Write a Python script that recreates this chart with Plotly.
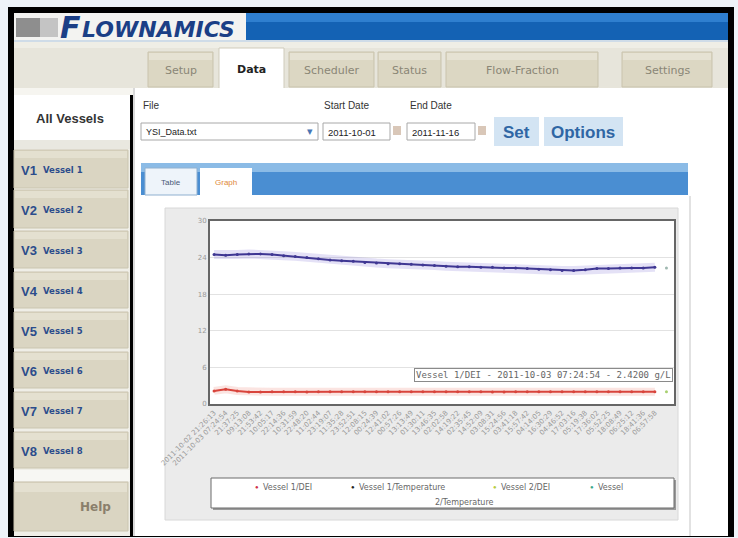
import plotly.graph_objects as go

# ---------------- data ----------------
categories = [
    "2011-10-02 21:26:13", "2011-10-03 07:24:54", "21:37:25", "09:13:08", "21:53:42", "10:05:17",
    "22:14:36", "10:31:59", "22:48:20", "11:02:44", "23:19:07", "11:35:28", "23:52:51", "12:08:15",
    "00:24:39", "12:41:02", "00:57:26", "13:13:49", "01:30:11", "13:46:35", "02:02:58", "14:19:22",
    "02:35:45", "14:52:09", "03:08:31", "15:24:56", "03:41:18", "15:57:42", "04:14:05", "16:30:29",
    "04:46:52", "17:03:16", "05:19:38", "17:36:02", "05:52:25", "18:08:49", "06:25:12", "18:41:36",
    "06:57:58"]

vessel1_temperature = [
    24.5, 24.4, 24.5, 24.6, 24.6, 24.5, 24.3, 24.2, 24.0, 23.8, 23.6, 23.5, 23.4, 23.2,
    23.1, 23.0, 23.0, 22.9, 22.8, 22.7, 22.6, 22.5, 22.5, 22.4, 22.4, 22.3, 22.3, 22.2,
    22.1, 22.0, 21.9, 21.9, 22.0, 22.2, 22.2, 22.3, 22.3, 22.3, 22.4]

vessel1_dei = [
    2.15, 2.42, 2.12, 1.98, 1.97, 1.99, 2.00, 2.00, 1.98, 2.00, 2.01, 1.99, 2.00, 2.02,
    2.00, 1.99, 2.01, 2.02, 2.00, 2.01, 1.99, 2.00, 2.01, 2.00, 1.98, 1.97, 1.99, 2.00,
    2.01, 2.00, 1.99, 2.00, 2.02, 2.01, 2.00, 1.99, 2.00, 2.00, 2.00]

vessel2_temperature = [22.3]
vessel2_dei = [2.0]

y_ticks = [0, 6, 12, 18, 24, 30]

legend_names = ["Vessel 1/DEI", "Vessel 1/Temperature", "Vessel 2/DEI", "Vessel"]
legend_colors = ["#d0304a", "#222222", "#b8cc40", "#3aa88a"]

side_items = [("V1", "Vessel 1"), ("V2", "Vessel 2"), ("V3", "Vessel 3"), ("V4", "Vessel 4"),
              ("V5", "Vessel 5"), ("V6", "Vessel 6"), ("V7", "Vessel 7"), ("V8", "Vessel 8")]
top_tabs = ["Setup", "Data", "Scheduler", "Status", "Flow-Fraction", "Settings"]

# ---------------- geometry helpers (pixel -> paper) ----------------
W, H = 738, 538
PL, PR, PT, PB = 210, 674, 221, 404


def X(px):
    return (px - PL) / (PR - PL)


def Y(py):
    return (PB - py) / (PB - PT)


shapes = []
annotations = []


def rect(x0, y0, x1, y1, fill, line=None, lw=0, layer="below"):
    shapes.append(dict(type="rect", xref="paper", yref="paper",
                       x0=X(x0), x1=X(x1), y0=Y(y1), y1=Y(y0),
                       fillcolor=fill, layer=layer,
                       line=dict(color=line or fill, width=lw)))


def text(px, py, s, size=10, color="#333", family="Liberation Sans", xanchor="left",
         yanchor="middle", **kw):
    annotations.append(dict(x=X(px), y=Y(py), xref="paper", yref="paper", text=s,
                            showarrow=False, xanchor=xanchor, yanchor=yanchor,
                            font=dict(size=size, color=color, family=family), **kw))


# outer frame
rect(8, 7, 734, 537, "#000000")
# logo area
rect(14, 13, 246, 40, "#f3f3f1")
rect(16, 18, 40, 37, "#8e8e8e")
rect(40, 18, 58, 37, "#c4c4c4")
text(58, 27, "<b><i>F</i></b>", size=30, color="#1b3f86", family="DejaVu Sans")
text(80, 29, "<b><i>LOWNAMICS</i></b>", size=22, color="#1b3f86", family="DejaVu Sans")
# blue header
rect(246, 13, 728, 40, "#1462b4")
rect(246, 13, 728, 22, "#2f7fcf")
rect(14, 40, 728, 42, "#cfdce8")
# tab bar
rect(14, 42, 728, 88, "#e7e5db")
rect(14, 42, 728, 48, "#efeee6")
tab_x = [(148, 213), (219, 284), (289, 374), (378, 441), (446, 598), (622, 712)]
for (x0, x1), name in zip(tab_x, top_tabs):
    if name == "Data":
        rect(x0, 48, x1, 92, "#ffffff", line="#cfcbbb", lw=1)
        text((x0 + x1) / 2, 69, "<b>" + name + "</b>", size=11, color="#222",
             family="DejaVu Sans", xanchor="center")
    else:
        rect(x0, 52, x1, 87, "#dcd7c3", line="#c9c3ad", lw=1)
        rect(x0 + 1, 53, x1 - 1, 60, "#e6e2d3")
        text((x0 + x1) / 2, 70, name, size=11, color="#8a8676",
             family="DejaVu Sans", xanchor="center")
# content area
rect(135, 88, 728, 536, "#ffffff")
rect(14, 88, 135, 95, "#f6f5f0")
# sidebar
rect(14, 95, 130, 536, "#efeee7")
rect(14, 95, 130, 141, "#ffffff")
rect(14, 140, 130, 149, "#e9e8e0")
text(70, 118, "<b>All Vessels</b>", size=13, color="#333", xanchor="center")
btn_y = [(150, 188), (190, 228), (231, 268), (272, 308), (312, 348), (352, 388), (392, 428), (432, 468)]
for (y0, y1), (code, label) in zip(btn_y, side_items):
    rect(14, y0, 128, y1, "#dad5c2", line="#cbc5b0", lw=1)
    rect(15, y0 + 1, 127, y0 + 8, "#e4e0d0")
    text(19, (y0 + y1) / 2 + 1, "<b>" + code + "</b>", size=13, color="#2b4c8c")
    text(41, (y0 + y1) / 2 + 1, "<b>" + label + "</b>", size=8.5, color="#2b4c8c",
         family="DejaVu Sans")
rect(14, 470, 130, 481, "#f7f7f3")
rect(14, 482, 128, 531, "#dad5c2", line="#cbc5b0", lw=1)
rect(15, 483, 127, 492, "#e4e0d0")
text(113, 507, "<b>Help</b>", size=12, color="#8a7f6c", family="DejaVu Sans", xanchor="right")
rect(133, 88, 135, 536, "#d9d9d9")

# form controls
text(141, 105, "File", size=10, color="#333")
text(322, 105, "Start Date", size=10, color="#333")
text(408, 105, "End Date", size=10, color="#333")
rect(141, 123, 318, 140, "#ffffff", line="#a8a8a8", lw=1)
text(144, 132, "YSI_Data.txt", size=9, color="#222")
text(310, 131, "▾", size=11, color="#4a76b4", xanchor="center")
rect(323, 123, 390, 140, "#ffffff", line="#a8a8a8", lw=1)
text(326, 132, "2011-10-01", size=9.5, color="#222")
rect(393, 126, 401, 135, "#d9c7b8")
rect(407, 123, 475, 140, "#ffffff", line="#a8a8a8", lw=1)
text(410, 132, "2011-11-16", size=9.5, color="#222")
rect(478, 126, 486, 135, "#d9c7b8")
rect(494, 117, 539, 146, "#d3e4f3")
text(516, 132, "<b>Set</b>", size=17, color="#2f66a4", xanchor="center")
rect(544, 117, 623, 146, "#d3e4f3")
text(583, 132, "<b>Options</b>", size=17, color="#2f66a4", xanchor="center")

# sub tab bar
rect(141, 163, 688, 195, "#4a8ed2")
rect(141, 163, 688, 172, "#8bbbe6")
rect(145, 168, 197, 195, "#eef4fa", line="#8fb0d0", lw=1)
text(171, 182, "Table", size=8, color="#4a5a78", xanchor="center")
rect(200, 168, 252, 196, "#ffffff")
text(226, 182, "Graph", size=8, color="#e0883a", xanchor="center")

# chart panel
rect(689, 196, 691, 536, "#e2e2e2")
rect(165, 208, 678, 520, "#ebebeb", line="#d8d8d8", lw=1)
rect(PL, PT, PR, PB, "#ffffff")
# legend box
rect(213, 480, 676, 510, "#9a9a9a")
rect(211, 478, 674, 508, "#ffffff", line="#6a6a6a", lw=1)
leg_x = [257, 353, 495, 592]
for lx, name, col in zip(leg_x, legend_names, legend_colors):
    text(lx, 487, "●", size=6, color=col, xanchor="center")
    text(lx + 4, 487, name, size=8, color="#666", family="DejaVu Sans")
text(433, 502, "2/Temperature", size=8, color="#666", family="DejaVu Sans")

# tooltip
annotations.append(dict(x=X(414), y=Y(375), xref="paper", yref="paper",
                        text="Vessel 1/DEI - 2011-10-03 07:24:54 - 2.4200 g/L",
                        showarrow=False, xanchor="left", yanchor="middle",
                        bgcolor="#ffffff", bordercolor="#8a8a8a", borderwidth=1, borderpad=1,
                        font=dict(size=9, color="#666", family="DejaVu Sans Mono")))

# ---------------- traces ----------------
idx = list(range(len(categories)))
fig = go.Figure()
fig.add_trace(go.Scatter(x=idx, y=vessel1_temperature, mode="lines",
                         line=dict(color="rgba(130,120,215,0.22)", width=9),
                         hoverinfo="skip", showlegend=False))
fig.add_trace(go.Scatter(x=idx, y=vessel1_dei, mode="lines",
                         line=dict(color="rgba(235,130,120,0.22)", width=8),
                         hoverinfo="skip", showlegend=False))
fig.add_trace(go.Scatter(x=idx, y=vessel1_temperature, mode="lines+markers",
                         name="Vessel 1/Temperature",
                         line=dict(color="#3f3793", width=2),
                         marker=dict(size=3, color="#3f3793"), showlegend=False))
fig.add_trace(go.Scatter(x=idx, y=vessel1_dei, mode="lines+markers", name="Vessel 1/DEI",
                         line=dict(color="#d8443c", width=2),
                         marker=dict(size=3, color="#d8443c"), showlegend=False))
fig.add_trace(go.Scatter(x=[len(categories)], y=vessel2_temperature, mode="markers",
                         name="Vessel 2/Temperature", marker=dict(size=3, color="#9fb8b0"),
                         showlegend=False))
fig.add_trace(go.Scatter(x=[len(categories)], y=vessel2_dei, mode="markers",
                         name="Vessel 2/DEI", marker=dict(size=3, color="#a8d070"),
                         showlegend=False))

fig.update_layout(
    width=W, height=H,
    margin=dict(l=PL, r=W - PR, t=PT, b=H - PB, pad=0),
    paper_bgcolor="#eef3f8", plot_bgcolor="#ffffff",
    shapes=shapes, annotations=annotations, showlegend=False,
    font=dict(family="DejaVu Sans"),
)
fig.update_xaxes(range=[-0.35, 39.65], tickvals=idx, ticktext=categories, tickangle=-45,
                 tickfont=dict(size=7, color="#9a9a9a"), showgrid=False, zeroline=False,
                 showline=True, mirror=True, linecolor="#666666", linewidth=2, ticks="")
fig.update_yaxes(range=[0, 30], tickvals=y_ticks, tickfont=dict(size=7, color="#999"),
                 showgrid=True, gridcolor="#e2e2e2", zeroline=False, showline=True,
                 mirror=True, linecolor="#666666", linewidth=2, ticks="")

fig.write_html("out.html", config={"displayModeBar": False},
               post_script="document.body.style.margin='0';document.body.style.overflow='hidden';")
